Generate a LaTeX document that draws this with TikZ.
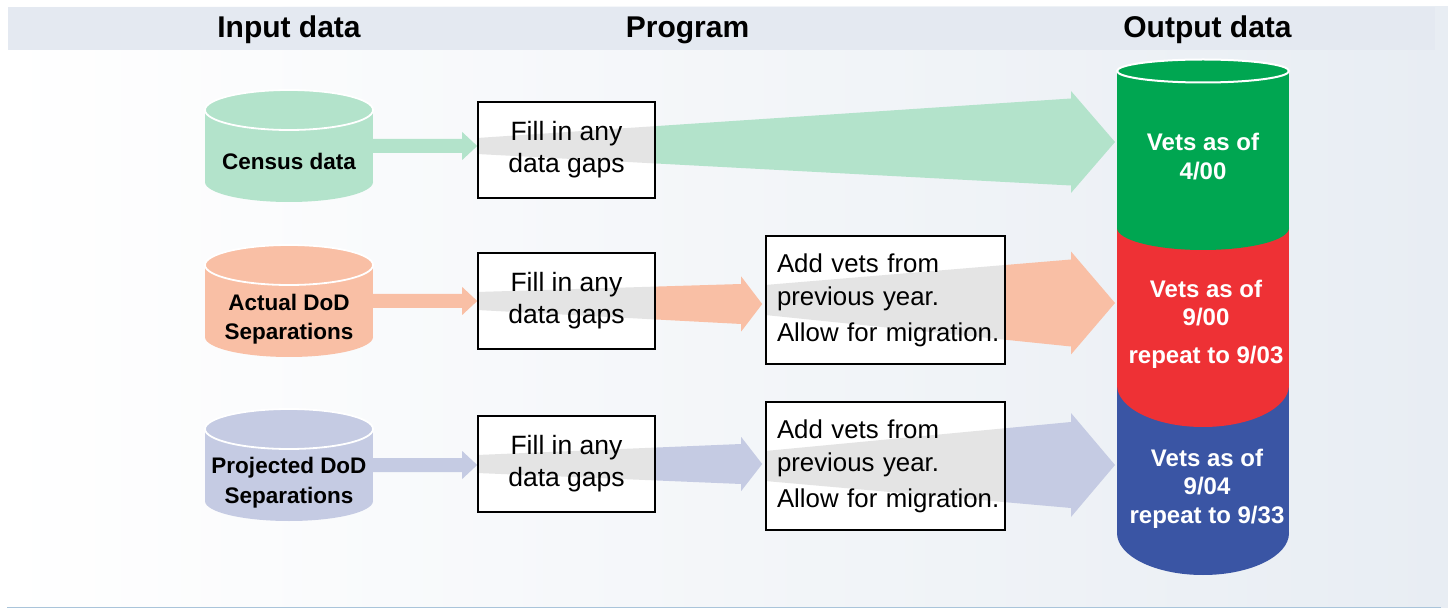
\documentclass[tikz,border=0pt]{standalone}
\usepackage{fontspec}
\setmainfont{Liberation Sans}
\usetikzlibrary{calc}

\definecolor{censusc}{RGB}{179,227,203}
\definecolor{actualc}{RGB}{249,191,165}
\definecolor{projc}{RGB}{197,203,227}
\definecolor{outgreen}{RGB}{0,166,81}
\definecolor{outred}{RGB}{238,49,53}
\definecolor{outblue}{RGB}{58,85,164}
\definecolor{bandgray}{RGB}{228,228,228}
\definecolor{headc}{RGB}{228,233,241}
\definecolor{bgright}{RGB}{232,237,243}
\definecolor{rulec}{RGB}{169,196,218}

\pgfdeclarelayer{bg}
\pgfdeclarelayer{arrows}
\pgfdeclarelayer{boxfill}
\pgfsetlayers{bg,arrows,boxfill,main}

% block arrow: start, tip, half width at start, at head base, of head, head length
\newcommand{\taper}[6]{let \p1=(#1), \p2=(#2) in (\x1,\y1+#3) -- (\x2-#6,\y2+#4) -- (\x2-#6,\y2+#5) -- (\x2,\y2) -- (\x2-#6,\y2-#5) -- (\x2-#6,\y2-#4) -- (\x1,\y1-#3) -- cycle}

\tikzset{
	headtext/.style={font=\fontsize{30}{36}\selectfont\bfseries, anchor=base},
	cylbody/.style={rectangle, inner sep=0pt, outer sep=0pt, minimum width=168pt, minimum height=72pt},
	cyltext/.style={align=center, font=\fontsize{22.5}{29.5}\selectfont\bfseries},
	gapbox/.style={rectangle, draw=black, line width=1.6pt, minimum width=177pt, minimum height=96pt, align=center, font=\fontsize{26.5}{32}\selectfont},
	vetbox/.style={rectangle, draw=black, line width=1.6pt, minimum height=128pt, text width=217pt, inner xsep=11pt, align=left, font=\fontsize{25.8}{33}\selectfont},
	outbody/.style={rectangle, inner sep=0pt, outer sep=0pt, minimum width=172pt},
	outtext/.style={align=center, text=white, font=\fontsize{24}{28.5}\selectfont\bfseries},
}

\begin{document}
\begin{tikzpicture}[x=1pt,y=-1pt]
	\useasboundingbox (0,0) rectangle (1448,609);

	\node[headtext] (head-in) at (289,37.5) {Input data};
	\node[headtext] (head-prog) at (687.5,37.5) {Program};
	\node[headtext] (head-out) at (1207.5,37.5) {Output data};

	% input data
	\node[cylbody, fill=censusc] (in-1) at (289,146) {};
	\fill[censusc] (in-1.south) ellipse (84 and 20);
	\filldraw[fill=censusc, draw=white, line width=1.8pt] (in-1.north) ellipse (84 and 20);
	\node[cyltext] (in-1-txt) at ($(in-1)+(0,15.5)$) {Census data};

	\node[cylbody, fill=actualc] (in-2) at (289,301) {};
	\fill[actualc] (in-2.south) ellipse (84 and 20);
	\filldraw[fill=actualc, draw=white, line width=1.8pt] (in-2.north) ellipse (84 and 20);
	\node[cyltext] (in-2-txt) at ($(in-2)+(0,18)$) {Actual DoD\\Separations};

	\node[cylbody, fill=projc] (in-3) at (289,465) {};
	\fill[projc] (in-3.south) ellipse (84 and 20);
	\filldraw[fill=projc, draw=white, line width=1.8pt] (in-3.north) ellipse (84 and 20);
	\node[cyltext] (in-3-txt) at ($(in-3)+(0,17.5)$) {Projected DoD\\Separations};

	% program
	\node[gapbox] (fill-1) at (566.5,150) {Fill in any\\data gaps};
	\node[gapbox] (fill-2) at (566.5,301) {Fill in any\\data gaps};
	\node[gapbox] (fill-3) at (566.5,464) {Fill in any\\data gaps};
	\node[vetbox] (vets-2) at (885.5,300) {Add vets from\\previous year.\\[3pt]\mbox{Allow for migration.}};
	\node[vetbox] (vets-3) at (885.5,466) {Add vets from\\previous year.\\[3pt]\mbox{Allow for migration.}};

	% output data
	\node[outbody, fill=outblue, minimum height=148pt] (out-3) at (1203,459) {};
	\fill[outblue] (out-3.south) ellipse (86 and 42);
	\node[outbody, fill=outred, minimum height=157pt] (out-2) at (1203,306.5) {};
	\fill[outred] (out-2.south) ellipse (86 and 42);
	\node[outbody, fill=outgreen, minimum height=157pt] (out-1) at (1203,149.5) {};
	\fill[outgreen] (out-1.south) ellipse (86 and 22);
	\filldraw[fill=outgreen, draw=white, line width=2pt] (out-1.north) ellipse (86 and 11.5);

	\node[outtext] (out-1-txt) at (1203,156.5) {Vets as of\\4/00};
	\node[outtext] (out-2-txt) at (1206,324.5) {Vets as of\\9/00\\[9.5pt]repeat to 9/03};
	\node[outtext] (out-3-txt) at (1207,488.5) {Vets as of\\9/04\\repeat to 9/33};

	\def\arrA{\taper{fill-1.west |- in-1.east}{$(out-1.west)+(-2,-7.5)$}{8pt}{43.5pt}{51pt}{44pt}}
	\def\arrB{\taper{fill-2.west}{$(vets-2.west)+(-3,4)$}{9pt}{20pt}{27.5pt}{21pt}}
	\def\arrC{\taper{vets-2.west}{$(out-2.west)+(-2,-3.5)$}{15pt}{43.5pt}{51.5pt}{44pt}}
	\def\arrD{\taper{fill-3.west}{$(vets-3.west)+(-3,-2)$}{9pt}{20pt}{27pt}{21pt}}
	\def\arrE{\taper{vets-3.west}{$(out-3.west)+(-2,6)$}{15pt}{43pt}{52pt}{44pt}}

	\begin{pgfonlayer}{arrows}
		\fill[censusc] \taper{in-1.east}{fill-1.west |- in-1.east}{7pt}{7pt}{14pt}{15pt};
		\fill[actualc] \taper{in-2.east}{fill-2.west |- in-2.east}{7pt}{7pt}{14pt}{15pt};
		\fill[projc] \taper{in-3.east}{fill-3.west |- in-3.east}{7pt}{7pt}{14pt}{15pt};
		\fill[censusc] \arrA;
		\fill[actualc] \arrB;
		\fill[actualc] \arrC;
		\fill[projc] \arrD;
		\fill[projc] \arrE;
	\end{pgfonlayer}

	% white boxes, arrow seen through them in gray
	\begin{pgfonlayer}{boxfill}
		\foreach \b/\a in {fill-1/\arrA, fill-2/\arrB, vets-2/\arrC, fill-3/\arrD, vets-3/\arrE}{
			\fill[white] (\b.north west) rectangle (\b.south east);
			\begin{scope}
				\clip (\b.north west) rectangle (\b.south east);
				\fill[bandgray] \a;
			\end{scope}
		}
	\end{pgfonlayer}

	\begin{pgfonlayer}{bg}
		\shade[left color=white, right color=bgright] (0,7) rectangle (1448,607);
		\fill[headc] (8,7) rectangle (1435,50);
		\draw[rulec, line width=1.5pt] (7,607.5) -- (1441,607.5);
	\end{pgfonlayer}
\end{tikzpicture}
\end{document}
